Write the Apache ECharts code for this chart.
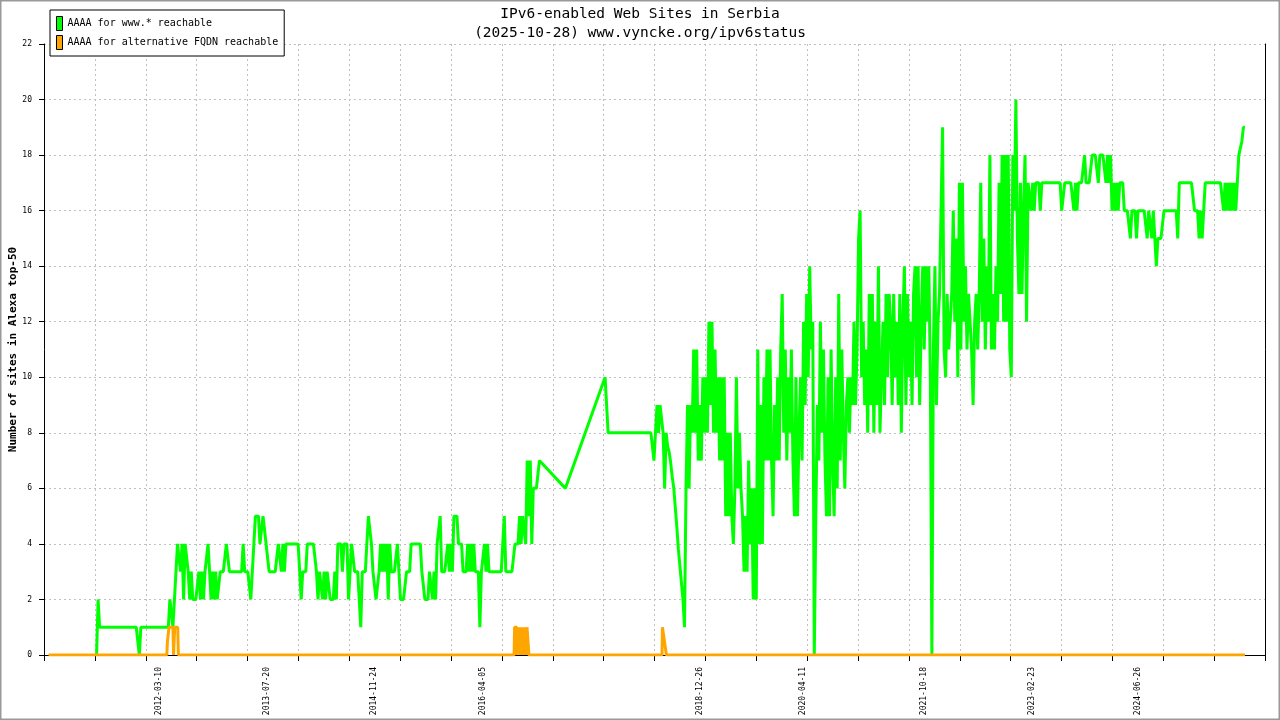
<!DOCTYPE html>
<html>
<head>
<meta charset="utf-8">
<script src="https://cdn.jsdelivr.net/npm/echarts@6/dist/echarts.min.js"></script>
<style>
html,body{margin:0;padding:0;background:#fff;}
#chart{width:1280px;height:720px;}
</style>
</head>
<body>
<div id="chart"></div>
<script>
// ---------------- data ----------------
const TITLE_LINES = ['IPv6-enabled Web Sites in Serbia', '(2025-10-28) www.vyncke.org/ipv6status'];
const SERIES_NAMES = ['AAAA for www.* reachable', 'AAAA for alternative FQDN reachable'];
const Y_AXIS_NAME = 'Number of sites in Alexa top-50';
const X_LABEL_DATES = ['2012-03-10', '2013-07-20', '2014-11-24', '2016-04-05', '2018-12-26',
                       '2020-04-11', '2021-10-18', '2023-02-23', '2024-06-26'];
const X_MIN = '2010-10-02';
const X_MAX = '2026-01-28';
const Y_MIN = 0, Y_MAX = 22, Y_STEP = 2;

// www.* series: one reading per week starting at GREEN_START (null = no measurement)
const GREEN_START = '2011-05-31';
const GREEN_STEP_DAYS = 7;
const greenRows = [
  [0,2,1,1,1,1,1,1,1,1,1,1,1,1,1,1,1,1,1,1],
  [1,1,1,1,1,1,1,1,0,1,1,1,1,1,1,1,1,1,1,1],
  [1,1,1,1,1,1,1,1,2,2,1,2,3,4,4,3,4,2,4,4],
  [3,2,3,2,2,2,2,3,2,3,2,3,3,4,3,2,3,2,3,2],
  [2,3,3,3,3,4,4,3,3,3,3,3,3,3,3,3,4,3,3,3],
  [3,2,3,4,5,5,5,4,4,5,5,4,4,3,3,3,3,3,3,4],
  [4,3,4,3,4,4,4,4,4,4,4,4,4,3,2,3,3,3,4,4],
  [4,4,4,4,3,2,3,3,2,3,2,3,3,2,2,2,3,2,4,4],
  [4,3,4,4,4,2,3,4,4,3,3,3,2,1,3,3,3,3,5,5],
  [4,3,3,2,2,3,4,3,4,3,4,2,4,3,3,3,3,4,4,2],
  [2,2,2,3,3,3,4,4,4,4,4,4,4,3,3,2,2,2,3,3],
  [2,3,2,4,4,5,3,3,3,3,4,3,4,3,5,5,5,4,4,4],
  [3,3,3,4,3,4,3,4,3,3,3,1,3,3,4,3,4,3,3,3],
  [3,3,3,3,3,3,4,5,3,3,3,3,3,3,4,4,4,5,4,5],
  [5,4,7,5,7,4,6,6,6,6,7,7,null,null,null,null,null,null,null,null],
  [null,null,null,null,null,null,null,6,null,null,null,null,null,null,null,null,null,null,null,null],
  [null,null,null,null,null,null,null,null,null,null,null,null,null,10,10,8,8,8,8,8],
  [8,8,8,8,8,8,8,8,8,8,8,8,8,8,8,8,8,8,8,8],
  [8,8,8,8,8,7,8,9,8,9,9,8,6,8,7.5,7.3,6.9,6.4,6.0,5.3],
  [4.6,3.8,3.2,2.6,2.0,1.0,6,9,6,9,8,11,8,11,7,9,7,10,8,10],
  [8,12,9,12,8,11,8,10,7,10,7,10,5,8,5,8,5,4,6,10],
  [6,8,6,5,3,5,3,7,4,6,2,6,2,11,4,9,4,10,7,11],
  [7,11,7,5,9,7,10,7,11,13,8,11,7,10,8,11,7,5,10,5],
  [8,10,7,12,9,13,10,14,11,12,0,5,9,7,12,8,11,7,5,10],
  [5,11,7,5,10,6,13,7,11,8,6,9,10,8,10,9,12,9,11,15],
  [16,10,12,9,11,8,13,9,13,8,12,9,14,8,10,12,9,13,10,13],
  [12,9,13,10,12,9,13,8,12,14,9,13,10,12,9,13,14,10,14,9],
  [12,14,11,14,12,14,10,0,11,14,9,12,13,16,19,11,10,13,11,12],
  [13,16,12,15,10,17,11,17,12,14,11,13,12,11,9,12,13,11,13,17],
  [12,15,11,14,12,18,11,13,11,14,12,17,13,18,12,18,12,18,11,10],
  [18,16,20,15,13,17,13,16,18,12,17,17,16,17,16,17,17,17,16,17],
  [17,17,17,17,17,17,17,17,17,17,17,17,16,16,17,17,17,17,17,17],
  [16,17,16,17,17,17,17,18,17,17,17,17,18,18,18,18,17,18,18,18],
  [18,17,18,17,18,16,17,16,17,16,17,17,17,16,16,16,16,15,16,16],
  [16,15,16,16,16,16,16,16,15,16,16,15,16,16,14,15,15,15,15,16],
  [16,16,16,16,16,16,16,16,15,17,17,17,17,17,17,17,17,17,17,16],
  [16,16,15,16,15,15,17,17,17,17,17,17,17,17,17,17,17,17,16,17],
  [16,17,16,17,16,17,16,17,18,18,18.5,19,19]
];

// alternative FQDN series: [date, value]
const orangePoints = [
  ['2010-10-23',0],['2012-04-17',0],['2012-04-20',0.5],['2012-04-24',0.5],['2012-04-27',1],
  ['2012-05-15',1],['2012-05-18',0],['2012-05-21',0],['2012-05-23',1],['2012-06-06',1],
  ['2012-06-09',0],['2016-08-26',0],['2016-08-28',1],['2016-09-07',1],['2016-09-09',0],
  ['2016-09-17',0],['2016-09-19',1],['2016-09-24',0],['2016-09-27',1],['2016-10-03',0],
  ['2016-10-06',1],['2016-10-12',0],['2016-10-15',1],['2016-10-21',0],['2016-10-24',1],
  ['2016-10-31',1],['2016-11-02',0],['2018-07-05',0],['2018-07-07',1],['2018-07-15',1],
  ['2018-07-16',0.5],['2018-07-23',0.5],['2018-07-25',0],['2025-10-28',0]
];

// ---------------- build ----------------
function toTime(s) {
  const p = s.split('-').map(Number);
  return new Date(p[0], p[1] - 1, p[2]).getTime();
}
function fmtDate(v) {
  const d = new Date(v);
  const mm = String(d.getMonth() + 1).padStart(2, '0');
  const dd = String(d.getDate()).padStart(2, '0');
  return d.getFullYear() + '-' + mm + '-' + dd;
}
const gs = GREEN_START.split('-').map(Number);
const greenValues = [].concat.apply([], greenRows);
const greenData = greenValues.map((v, i) =>
  [new Date(gs[0], gs[1] - 1, gs[2] + i * GREEN_STEP_DAYS).getTime(), v]);
const orangeData = orangePoints.map(p => [toTime(p[0]), p[1]]);

const FONT = 'DejaVu Sans Mono';
const GRID_LINE = { color: '#c0c0c0', type: [2, 3], width: 1 };

const chart = echarts.init(document.getElementById('chart'), null, { renderer: 'canvas' });
chart.setOption({
  animation: false,
  backgroundColor: '#ffffff',
  title: [
    { text: TITLE_LINES[0], left: 'center', top: 7, padding: 0,
      textStyle: { fontFamily: FONT, fontSize: 14.5, fontWeight: 'normal', color: '#000' } },
    { text: TITLE_LINES[1], left: 'center', top: 26, padding: 0,
      textStyle: { fontFamily: FONT, fontSize: 14.5, fontWeight: 'normal', color: '#000' } }
  ],
  legend: {
    orient: 'vertical', left: 50, top: 10,
    padding: [6, 6, 6, 6], itemGap: 4, itemWidth: 6, itemHeight: 14,
    icon: 'rect', borderColor: '#000', borderWidth: 1, backgroundColor: '#fff',
    itemStyle: { borderColor: '#000', borderWidth: 1 },
    textStyle: { fontFamily: FONT, fontSize: 10, color: '#000' },
    data: SERIES_NAMES
  },
  grid: { left: 44, right: 15, top: 44, bottom: 65, containLabel: false, outerBoundsMode: 'none' },
  xAxis: [
    {
      type: 'value', position: 'bottom',
      min: toTime(X_MIN), max: toTime(X_MAX),
      axisLine: { show: false }, axisTick: { show: false }, splitLine: { show: false },
      axisLabel: {
        customValues: X_LABEL_DATES.map(toTime),
        rotate: 90, margin: 12, fontFamily: FONT, fontSize: 8, color: '#000',
        formatter: fmtDate
      }
    },
    {
      type: 'value', position: 'bottom', min: 0, max: 24, interval: 1,
      axisLine: { show: true, lineStyle: { color: '#000', width: 1 } },
      axisTick: { show: true, inside: false, length: 6, lineStyle: { color: '#000' } },
      axisLabel: { show: false },
      splitLine: { show: true, lineStyle: GRID_LINE }
    }
  ],
  yAxis: [
    {
      type: 'value', position: 'left', min: Y_MIN, max: Y_MAX, interval: Y_STEP,
      axisLine: { show: true, lineStyle: { color: '#000' } },
      axisTick: { show: true, length: 5, lineStyle: { color: '#000' } },
      axisLabel: { margin: 12, fontFamily: FONT, fontSize: 8, color: '#000' },
      splitLine: { show: true, lineStyle: GRID_LINE },
      name: Y_AXIS_NAME, nameLocation: 'middle', nameGap: 25, nameMoveOverlap: false,
      nameTextStyle: { fontFamily: FONT, fontSize: 11, fontWeight: 'bold', color: '#000' }
    },
    {
      type: 'value', position: 'right', min: Y_MIN, max: Y_MAX,
      axisLine: { show: true, lineStyle: { color: '#000' } },
      axisTick: { show: false }, axisLabel: { show: false }, splitLine: { show: false }
    }
  ],
  series: [
    {
      name: SERIES_NAMES[0], type: 'line', xAxisIndex: 0, yAxisIndex: 0,
      data: greenData, symbol: 'none', showSymbol: false, connectNulls: true,
      lineStyle: { color: '#00ff00', width: 3 }, itemStyle: { color: '#00ff00' }
    },
    {
      name: SERIES_NAMES[1], type: 'line', xAxisIndex: 0, yAxisIndex: 0,
      data: orangeData, symbol: 'none', showSymbol: false,
      lineStyle: { color: '#ffa500', width: 3 }, itemStyle: { color: '#ffa500' }
    }
  ],
  graphic: [
    { type: 'rect', silent: true, z: 100,
      shape: { x: 0.5, y: 0.5, width: 1279, height: 719 },
      style: { fill: null, stroke: '#999', lineWidth: 2 } }
  ]
});
</script>
</body>
</html>
